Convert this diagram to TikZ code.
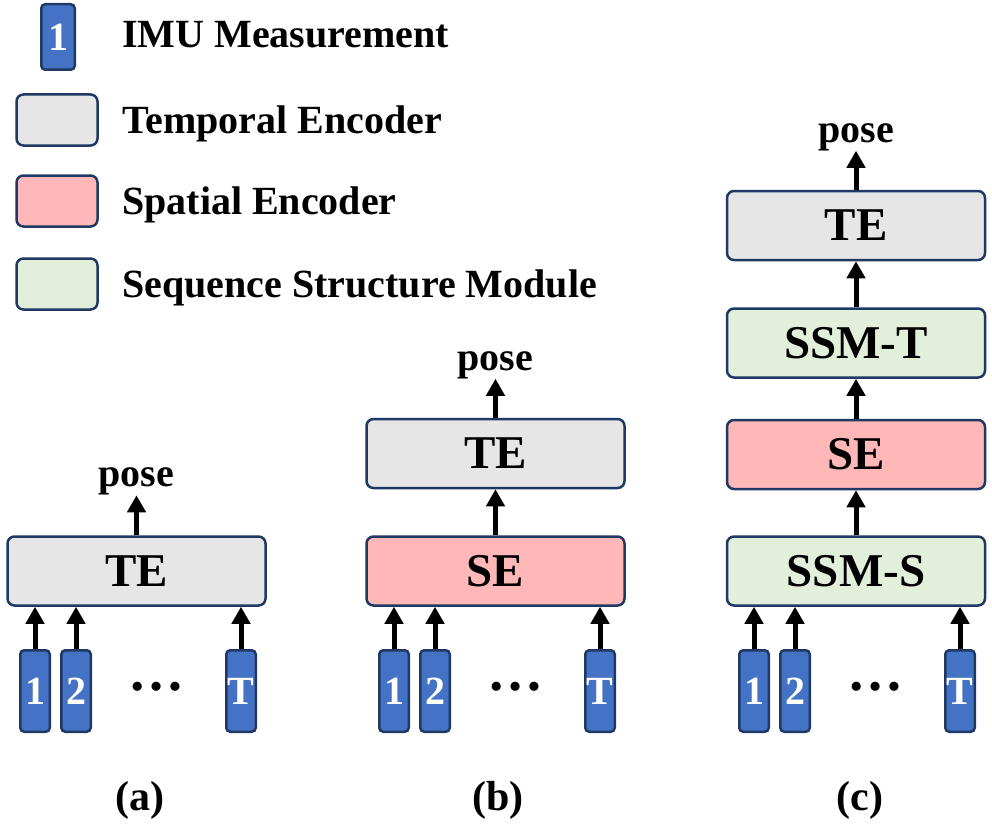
\documentclass[tikz,border=0pt]{standalone}
\usepackage{fontspec}
\setmainfont{Liberation Serif}
\usetikzlibrary{positioning}
\usetikzlibrary{arrows.meta}

\definecolor{navyline}{RGB}{32,56,100}
\definecolor{imublue}{RGB}{68,114,196}
\definecolor{tegray}{RGB}{231,230,230}
\definecolor{sepink}{RGB}{255,183,183}
\definecolor{ssmgreen}{RGB}{226,239,218}

\tikzset{
	box/.style = {draw=navyline, line width=2.5pt, rounded corners=7pt, inner sep=0pt},
	imu/.style = {box, rounded corners=4pt, fill=imublue, text=white, minimum width=29.5pt, minimum height=81.5pt, font=\bfseries\fontsize{40}{40}\selectfont},
	block/.style = {box, minimum width=258pt, minimum height=69pt, font=\bfseries\fontsize{47}{47}\selectfont},
	te/.style = {block, fill=tegray},
	se/.style = {block, fill=sepink},
	ssm/.style = {block, fill=ssmgreen},
	key/.style = {box, minimum width=81pt, minimum height=51pt},
	keytext/.style = {anchor=base west, inner sep=0pt, font=\bfseries\fontsize{40}{40}\selectfont},
	pose/.style = {inner sep=0pt, font=\bfseries\fontsize{40}{40}\selectfont},
	dots/.style = {inner sep=0pt, font=\bfseries\fontsize{56}{56}\selectfont},
	caption/.style = {inner sep=0pt, font=\bfseries\fontsize{42}{42}\selectfont},
	flow/.style = {-{Triangle[width=18pt,length=17pt]}, line width=5pt}
}

\begin{document}
\begin{tikzpicture}[x=1pt, y=-1pt]
	\useasboundingbox (0,0) rectangle (992,832);
	% legend
	\node[imu, minimum width=33.5pt, minimum height=65.5pt] (keyimu) at (58,37) {1};
	\node[keytext] (keyimutext) at (122,48) {IMU Measurement};
	\node[key, fill=tegray] (keyte) at (57,120) {};
	\node[keytext] (keytetext) at (122,133) {Temporal Encoder};
	\node[key, fill=sepink] (keyse) at (57,201) {};
	\node[keytext] (keysetext) at (122,214) {Spatial Encoder};
	\node[key, fill=ssmgreen] (keyssm) at (57,284) {};
	\node[keytext] (keyssmtext) at (122,297) {Sequence Structure Module};

	% (a)
	\node[te] (TEa) at (136.5,571) {TE};
	\coordinate[above=40pt of TEa] (outa);
	\node[pose, above=0pt of outa] (posea) {pose};
	\draw[flow] (TEa) -- (outa);

	% (b)
	\node[se] (SEb) at (495.5,571) {SE};
	\node[te, above=46pt of SEb] (TEb) {TE};
	\coordinate[above=39pt of TEb] (outb);
	\node[pose, above=0pt of outb] (poseb) {pose};
	\draw[flow] (SEb) -- (TEb);
	\draw[flow] (TEb) -- (outb);

	% (c)
	\node[ssm] (SSMSc) at (856,571) {SSM-S};
	\node[se, above=45pt of SSMSc] (SEc) {SE};
	\node[ssm, above=40pt of SEc] (SSMTc) {SSM-T};
	\node[te, above=46pt of SSMTc] (TEc) {TE};
	\coordinate[above=39pt of TEc] (outc);
	\node[pose, above=0pt of outc] (posec) {pose};
	\draw[flow] (SSMSc) -- (SEc);
	\draw[flow] (SEc) -- (SSMTc);
	\draw[flow] (SSMTc) -- (TEc);
	\draw[flow] (TEc) -- (outc);

	% IMU inputs
	\foreach \off/\col/\blk in {0/a/TEa, 359/b/SEb, 719/c/SSMSc} {
		\node[imu] (\col1) at (35+\off,691) {1};
		\node[imu] (\col2) at (76+\off,691) {2};
		\node[imu] (\col T) at (241+\off,691) {T};
		\node[dots] (\col dots) at (156+\off,687) {…};
		\draw[flow] (\col1) -- (\col1 |- \blk.south);
		\draw[flow] (\col2) -- (\col2 |- \blk.south);
		\draw[flow] (\col T) -- (\col T |- \blk.south);
	}

	% captions
	\node[caption] (capa) at (140,800) {(a)};
	\node[caption] (capb) at (498,800) {(b)};
	\node[caption] (capc) at (860,800) {(c)};
\end{tikzpicture}
\end{document}
